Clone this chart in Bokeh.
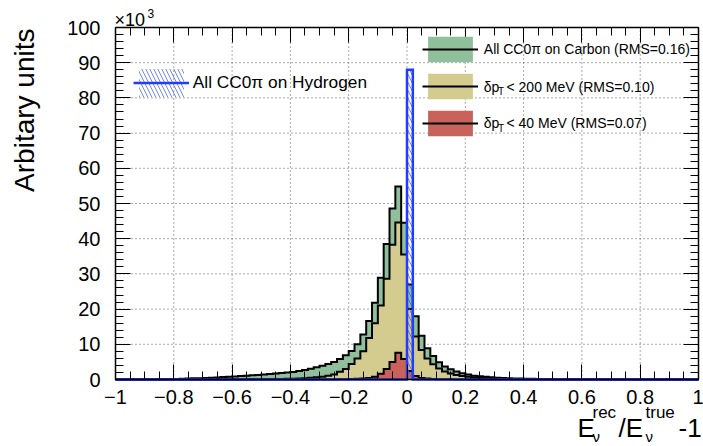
import numpy as np
from bokeh.plotting import figure
from bokeh.models import (FixedTicker, LinearAxis, Label, Legend, LegendItem,
                          Range1d, CustomJSTickFormatter)
from bokeh.embed import file_html
from bokeh.resources import INLINE

# ---------------- data (units of 10^3) ----------------
bin_low = -1.0
bin_width = 0.02

carbon_all = [
    0, 0, 0, 0, 0,
    0.02, 0.03, 0.05, 0.07, 0.10,
    0.15, 0.20, 0.26, 0.32, 0.38,
    0.45, 0.52, 0.60, 0.68, 0.78,
    0.88, 0.98, 1.08, 1.20, 1.30,
    1.42, 1.55, 1.68, 1.82, 1.98,
    2.15, 2.40, 2.70, 3.05, 3.45,
    3.90, 4.40, 5.00, 5.80, 6.90,
    8.10, 10.0, 12.8, 16.6, 21.8,
    28.9, 38.5, 48.6, 54.8, 44.5,
    27.0, 18.0, 12.4, 8.9, 6.7,
    4.9, 3.7, 2.9, 2.3, 1.8,
    1.4, 1.1, 0.9, 0.75, 0.62,
    0.52, 0.44, 0.37, 0.31, 0.26,
    0.22, 0.19, 0.16, 0.14, 0.12,
    0.10, 0.09, 0.08, 0.07, 0.06,
    0.05, 0.05, 0.04, 0.04, 0.03,
    0.03, 0.03, 0.02, 0.02, 0.02,
    0.02, 0.01, 0.01, 0.01, 0.01,
    0.01, 0, 0, 0, 0,
]

carbon_dpt200 = [
    0, 0, 0, 0, 0,
    0, 0, 0, 0, 0,
    0, 0, 0, 0, 0,
    0, 0, 0, 0.01, 0.01,
    0.02, 0.03, 0.04, 0.05, 0.06,
    0.08, 0.10, 0.12, 0.15, 0.19,
    0.24, 0.30, 0.38, 0.48, 0.62,
    0.80, 1.05, 1.40, 2.20, 3.00,
    4.40, 6.00, 8.00, 11.8, 16.0,
    21.0, 28.6, 38.3, 44.6, 35.5,
    20.0, 12.2, 8.4, 6.0, 4.3,
    3.1, 2.3, 1.7, 1.3, 1.0,
    0.75, 0.58, 0.45, 0.35, 0.28,
    0.22, 0.17, 0.13, 0.10, 0.08,
    0.06, 0.05, 0.04, 0.03, 0.02,
    0.02, 0.01, 0.01, 0.01, 0.01,
    0, 0, 0, 0, 0,
    0, 0, 0, 0, 0,
    0, 0, 0, 0, 0,
    0, 0, 0, 0, 0,
]

carbon_dpt40 = [
    0, 0, 0, 0, 0,
    0, 0, 0, 0, 0,
    0, 0, 0, 0, 0,
    0, 0, 0, 0, 0,
    0, 0, 0, 0, 0,
    0, 0, 0, 0, 0,
    0, 0, 0, 0, 0,
    0.01, 0.02, 0.03, 0.05, 0.08,
    0.12, 0.18, 0.28, 0.45, 0.80,
    1.6, 3.0, 5.0, 7.6, 5.8,
    2.4, 1.0, 0.45, 0.25, 0.15,
    0.10, 0.06, 0.04, 0.03, 0.02,
    0.01, 0.01, 0, 0, 0,
    0, 0, 0, 0, 0,
    0, 0, 0, 0, 0,
    0, 0, 0, 0, 0,
    0, 0, 0, 0, 0,
    0, 0, 0, 0, 0,
    0, 0, 0, 0, 0,
    0, 0, 0, 0, 0,
]

hydrogen_edges = [-1.0, 0.0, 0.02, 1.0]
hydrogen_counts = [0.0, 88.0, 0.0]

x_ticks = [-1.0, -0.8, -0.6, -0.4, -0.2, 0.0, 0.2, 0.4, 0.6, 0.8, 1.0]
x_tick_labels = ["−1", "−0.8", "−0.6", "−0.4", "−0.2", "0", "0.2", "0.4", "0.6", "0.8", "1"]
y_ticks = [0, 10, 20, 30, 40, 50, 60, 70, 80, 90, 100]
y_tick_labels = ["0", "10", "20", "30", "40", "50", "60", "70", "80", "90", "100"]

carbon_labels = ["All CC0π on Carbon (RMS=0.16)", "< 200 MeV (RMS=0.10)", "< 40 MeV (RMS=0.07)"]
hydrogen_label = "All CC0π on Hydrogen"

GREEN = "#8fbf9b"
YELLOW = "#d4cc8e"
RED = "#c9625a"
BLUE = "#1f3cff"
FONT = "Liberation Sans"

# ---------------- layout (pixels) ----------------
W, H = 703, 446
BOX_L, BOX_R, BOX_T, BOX_B = 115.0, 698.0, 27.0, 379.0
XMIN, XMAX, YMIN, YMAX = -1.0, 1.0, 0.0, 100.0
sx_ = (BOX_R - BOX_L) / (XMAX - XMIN)
sy_ = (BOX_B - BOX_T) / (YMAX - YMIN)
x_range = Range1d(XMIN - BOX_L / sx_, XMAX + (W - BOX_R) / sx_)
y_range = Range1d(YMIN - (H - BOX_B) / sy_, YMAX + BOX_T / sy_)

p = figure(width=W, height=H, x_range=x_range, y_range=y_range,
           output_backend="svg", toolbar_location=None, min_border=0,
           x_axis_location=None, y_axis_location=None)
p.background_fill_color = "white"
p.border_fill_color = "white"
p.outline_line_color = None
p.xgrid.visible = False
p.ygrid.visible = False

xminor = list(np.round(np.arange(-1.0, 1.0001, 0.05), 3))
yminor = list(np.arange(0, 101, 2))
xticker = FixedTicker(ticks=x_ticks, minor_ticks=xminor)
yticker = FixedTicker(ticks=y_ticks, minor_ticks=yminor)

code = """
let b = 0;
for (let i = 0; i < tv.length; i++) { if (Math.abs(tv[i]-tick) < Math.abs(tv[b]-tick)) b = i; }
return tl[b];
"""
xfmt = CustomJSTickFormatter(args=dict(tv=x_ticks, tl=x_tick_labels), code=code)
yfmt = CustomJSTickFormatter(args=dict(tv=y_ticks, tl=y_tick_labels), code=code)
blank = CustomJSTickFormatter(code="return '';")


def make_axis(ticker, fmt, bounds, loc, labels=True):
    ax = LinearAxis(ticker=ticker, formatter=fmt if labels else blank,
                    bounds=bounds, fixed_location=loc)
    ax.axis_line_color = "black"
    ax.axis_line_width = 1.5
    ax.major_tick_in = 15
    ax.major_tick_out = 0
    ax.minor_tick_in = 8
    ax.minor_tick_out = 0
    ax.major_tick_line_width = 1
    ax.minor_tick_line_width = 1
    ax.major_tick_line_color = "black"
    ax.minor_tick_line_color = "black"
    if labels:
        ax.major_label_text_font = FONT
        ax.major_label_text_font_size = "20px"
        ax.major_label_text_color = "black"
    else:
        ax.major_label_text_font_size = "1px"
        ax.major_label_text_color = None
        ax.major_label_standoff = 0
    return ax


ax_b = make_axis(xticker, xfmt, (XMIN, XMAX), YMIN)
ax_b.major_label_standoff = 10
ax_l = make_axis(yticker, yfmt, (YMIN, YMAX), XMIN)
ax_l.major_label_standoff = 15
ax_t = make_axis(xticker, None, (XMIN, XMAX), YMAX, labels=False)
ax_r = make_axis(yticker, None, (YMIN, YMAX), XMAX, labels=False)
p.add_layout(ax_b, "below")
p.add_layout(ax_l, "left")
p.add_layout(ax_t, "above")
p.add_layout(ax_r, "right")

# dotted grid at the major ticks, inside the box only
GRID_C = "#555555"
p.segment(x0=x_ticks[1:-1], x1=x_ticks[1:-1], y0=YMIN, y1=YMAX,
          line_color=GRID_C, line_dash="1 3", line_width=1)
p.segment(x0=XMIN, x1=XMAX, y0=y_ticks[1:-1], y1=y_ticks[1:-1],
          line_color=GRID_C, line_dash="1 3", line_width=1)


def step_xy(edges, counts):
    edges = np.asarray(edges, dtype=float)
    counts = np.asarray(counts, dtype=float)
    xs = np.repeat(edges, 2)
    ys = np.concatenate([[0.0], np.repeat(counts, 2), [0.0]])
    return xs, ys


edges = np.round(bin_low + bin_width * np.arange(len(carbon_all) + 1), 4)

rends = []
for counts, col in [(carbon_all, GREEN), (carbon_dpt200, YELLOW), (carbon_dpt40, RED)]:
    xs, ys = step_xy(edges, counts)
    f = p.patch(xs, ys, fill_color=col, line_color=None)
    l = p.line(xs, ys, line_color="black", line_width=2, line_join="miter")
    rends.append((f, l))

hx, hy = step_xy(hydrogen_edges, hydrogen_counts)
hf = p.patch(hx, hy, fill_color=None, line_color=None, hatch_pattern="\\",
             hatch_color="#3d5cff", hatch_alpha=0.75, hatch_scale=8, hatch_weight=1)
hl = p.line(hx, hy, line_color=BLUE, line_width=2.5, line_join="miter")

# ---------------- legends ----------------
leg_r = Legend(items=[LegendItem(label=" ", renderers=[f, l]) for f, l in rends],
               location=(422, H - 138.8), glyph_width=56, glyph_height=32, spacing=5,
               padding=0, margin=0, label_standoff=5, border_line_color=None,
               background_fill_alpha=0, label_text_font_size="14px")
p.add_layout(leg_r, "center")

leg_h = Legend(items=[LegendItem(label=hydrogen_label, renderers=[hf, hl])],
               location=(132.8, H - 100), glyph_width=56, glyph_height=35,
               padding=0, margin=0, label_standoff=4, border_line_color=None,
               background_fill_alpha=0, label_text_font=FONT, label_text_font_size="17.3px",
               label_text_color="black")
p.add_layout(leg_h, "center")


def lab(text, px, py, size, align="left", angle=0.0):
    """py is the vertical middle of the text (page pixels)."""
    p.add_layout(Label(x=px, y=H - py, x_units="screen", y_units="screen", text=text,
                       text_font=FONT, text_font_size=size, text_color="black",
                       text_align=align, text_baseline="middle", angle=angle))


# carbon legend texts
centers = [48.8, 86.0, 122.8]
lab(carbon_labels[0], 483.3, centers[0], "14px")
for t, cy in zip(carbon_labels[1:], centers[1:]):
    lab("δp", 483.3, cy, "14px")
    lab("T", 497.5, cy + 5, "10px")
    lab(t, 506.0, cy, "14px")

# y title (rotated; "y" of Label = text end, "x" = text middle line)
p.add_layout(Label(x=23.5, y=H - 28, x_units="screen", y_units="screen", text="Arbitary units",
                   text_font=FONT, text_font_size="28px", text_color="black",
                   text_align="right", text_baseline="middle", angle=np.pi / 2))

# x10^3
lab("×10", 114, 19, "18px")
lab("3", 147, 12.5, "12px")

# x title  E_nu^rec / E_nu^true - 1
lab("E", 577, 427, "26px")
lab("rec", 592, 412, "17px")
lab("ν", 592, 435.5, "15px")
lab("/E", 618, 427, "26px")
lab("true", 645, 412, "17px")
lab("ν", 645, 435.5, "15px")
lab("-1", 678, 427, "26px")

open("out.html", "w").write(file_html(p, INLINE))
